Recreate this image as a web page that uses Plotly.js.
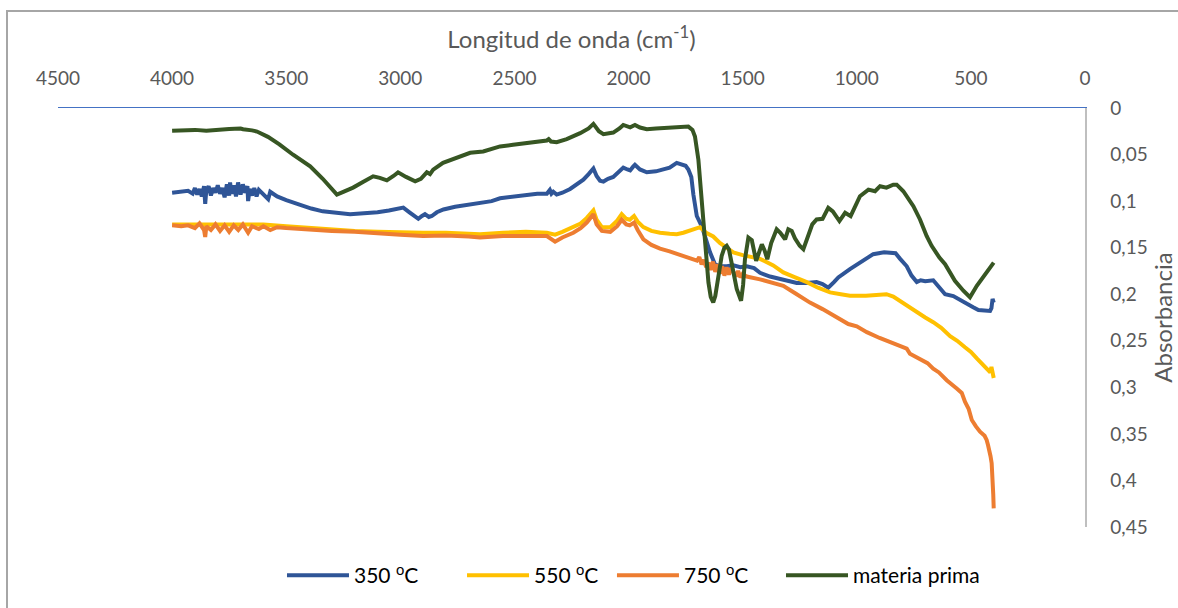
<!DOCTYPE html>
<html>
<head>
<meta charset="utf-8">
<script src="https://cdn.plot.ly/plotly-3.0.1.min.js"></script>
<style>
  html, body { margin: 0; padding: 0; background: #ffffff; }
  #chart { position: absolute; left: 0; top: 0; width: 1178px; height: 608px; }
  #frame { position: absolute; left: 6px; top: 10px; width: 1172px; height: 598px;
           border-left: 2px solid #a6a6a6; border-top: 2px solid #a6a6a6; pointer-events: none; box-sizing: border-box; }
</style>
</head>
<body>
<div id="chart"></div>
<div id="frame"></div>
<script>
// ---- Data (wavenumber in cm-1, absorbance) ----
const seriesNames = ["350 <sup>o</sup>C", "550 <sup>o</sup>C", "750 <sup>o</sup>C", "materia prima"];
const seriesColors = ["#2F5597", "#FFC000", "#ED7D31", "#375623"];

const wn350 = [4000,3960,3930,3910,3900,3890,3880,3870,3860,3855,3850,3840,3830,3820,3810,3800,3790,3780,3770,3760,3750,3746,3740,3730,3720,3711,3700,3690,3680,3670,3667,3660,3650,3640,3630,3620,3600,3579,3570,3540,3500,3440,3390,3340,3280,3220,3160,3100,3050,3016,2987,2960,2935,2921,2905,2892,2875,2862,2840,2811,2760,2709,2650,2600,2563,2505,2450,2400,2358,2345,2338,2330,2315,2290,2256,2230,2198,2175,2154,2140,2125,2110,2090,2067,2045,2023,2005,1993,1980,1972,1950,1920,1880,1848,1820,1789,1770,1750,1738,1725,1716,1701,1679,1665,1643,1621,1600,1570,1541,1510,1482,1450,1424,1380,1336,1300,1263,1220,1176,1150,1125,1100,1081,1030,986,950,928,880,854,830,810,781,760,737,720,700,665,640,613,577,550,518,490,467,440,416,410,405,400];
const abs350 = [0.091,0.090,0.089,0.092,0.086,0.093,0.087,0.095,0.084,0.103,0.088,0.084,0.094,0.086,0.091,0.083,0.092,0.086,0.096,0.082,0.094,0.080,0.092,0.083,0.095,0.080,0.093,0.082,0.091,0.084,0.100,0.087,0.094,0.086,0.095,0.088,0.093,0.098,0.090,0.095,0.099,0.104,0.108,0.111,0.113,0.114,0.113,0.112,0.110,0.108,0.107,0.112,0.117,0.119,0.116,0.114,0.117,0.116,0.112,0.109,0.106,0.104,0.102,0.100,0.097,0.095,0.093,0.092,0.092,0.088,0.092,0.090,0.093,0.091,0.087,0.083,0.077,0.071,0.065,0.073,0.078,0.079,0.076,0.074,0.069,0.064,0.066,0.067,0.063,0.061,0.066,0.069,0.068,0.066,0.064,0.059,0.061,0.062,0.066,0.074,0.093,0.116,0.127,0.139,0.155,0.168,0.170,0.170,0.169,0.171,0.170,0.172,0.177,0.181,0.184,0.186,0.188,0.188,0.187,0.189,0.193,0.187,0.182,0.173,0.166,0.160,0.157,0.155,0.155,0.156,0.162,0.170,0.180,0.187,0.185,0.186,0.185,0.192,0.200,0.202,0.206,0.210,0.214,0.217,0.218,0.218,0.215,0.205,0.209];

const wn550 = [4000,3950,3900,3850,3800,3700,3600,3500,3400,3300,3200,3100,3000,2900,2800,2700,2651,2550,2450,2358,2322,2290,2242,2210,2183,2154,2140,2117,2080,2050,2030,2010,1995,1976,1960,1935,1900,1862,1820,1789,1760,1731,1700,1687,1660,1629,1600,1570,1541,1500,1482,1424,1366,1322,1270,1219,1170,1117,1070,1030,960,913,870,840,800,767,737,700,665,630,591,560,526,500,474,450,431,415,410,405,400];
const abs550 = [0.125,0.125,0.1245,0.124,0.124,0.124,0.125,0.127,0.129,0.131,0.132,0.133,0.134,0.134,0.134,0.135,0.1355,0.134,0.133,0.134,0.136,0.133,0.128,0.124,0.118,0.110,0.120,0.128,0.128,0.121,0.114,0.119,0.120,0.116,0.122,0.128,0.132,0.134,0.135,0.1355,0.134,0.132,0.129,0.128,0.134,0.138,0.145,0.150,0.155,0.158,0.159,0.162,0.169,0.1766,0.182,0.187,0.193,0.198,0.200,0.2016,0.2016,0.201,0.200,0.2025,0.209,0.215,0.220,0.225,0.230,0.236,0.245,0.250,0.257,0.262,0.269,0.275,0.280,0.284,0.278,0.288,0.290];

const wn750 = [4000,3960,3930,3900,3880,3860,3855,3850,3830,3810,3790,3770,3750,3730,3710,3690,3667,3650,3620,3600,3570,3540,3500,3400,3300,3200,3100,3000,2900,2800,2700,2651,2550,2450,2358,2322,2290,2242,2210,2183,2154,2140,2117,2080,2050,2030,2010,1995,1976,1960,1935,1900,1862,1820,1774,1730,1700,1690,1680,1670,1660,1650,1640,1630,1620,1610,1600,1590,1580,1570,1560,1550,1541,1530,1520,1510,1500,1482,1424,1366,1322,1270,1205,1150,1103,1070,1037,1000,956,900,854,840,781,767,723,690,665,640,606,580,562,540,526,510,496,478,460,440,431,425,419,414,409,405,402,400];
const abs750 = [0.126,0.127,0.126,0.129,0.124,0.131,0.1385,0.127,0.131,0.125,0.132,0.126,0.133,0.126,0.131,0.125,0.134,0.127,0.130,0.127,0.131,0.128,0.129,0.131,0.132,0.133,0.134,0.136,0.1375,0.137,0.138,0.139,0.1375,0.137,0.1375,0.1435,0.139,0.134,0.129,0.123,0.114,0.125,0.132,0.133,0.127,0.120,0.125,0.126,0.123,0.131,0.141,0.147,0.151,0.154,0.158,0.162,0.164,0.160,0.168,0.163,0.171,0.166,0.174,0.165,0.176,0.168,0.178,0.170,0.180,0.171,0.179,0.172,0.177,0.181,0.175,0.182,0.178,0.181,0.184,0.188,0.191,0.199,0.209,0.216,0.223,0.228,0.232,0.2345,0.2407,0.247,0.2514,0.2532,0.2585,0.264,0.2692,0.274,0.2799,0.284,0.2924,0.297,0.3013,0.306,0.3155,0.323,0.3351,0.342,0.3476,0.352,0.3565,0.362,0.3725,0.374,0.3814,0.395,0.415,0.43];

const wnMP = [4000,3900,3850,3800,3750,3700,3689,3650,3628,3580,3530,3470,3395,3340,3300,3278,3250,3207,3160,3119,3090,3059,3030,3010,2975,2935,2910,2884,2870,2856,2813,2750,2694,2637,2563,2506,2430,2358,2350,2340,2315,2271,2212,2175,2154,2130,2110,2067,2040,2023,1993,1972,1950,1920,1880,1830,1774,1738,1720,1709,1694,1679,1665,1650,1640,1629,1620,1611,1592,1580,1570,1560,1548,1536,1526,1507,1498,1490,1475,1460,1441,1428,1416,1404,1392,1375,1351,1335,1322,1314,1300,1285,1271,1250,1234,1212,1195,1176,1150,1125,1105,1076,1051,1027,1005,986,949,920,898,870,840,825,796,767,752,723,694,672,657,638,613,570,533,504,474,438,409,402,400];
const absMP = [0.0243,0.0235,0.0245,0.023,0.0225,0.022,0.0228,0.024,0.0253,0.031,0.039,0.0502,0.0627,0.076,0.088,0.093,0.090,0.0855,0.079,0.0734,0.075,0.0777,0.073,0.0691,0.074,0.0787,0.076,0.0691,0.071,0.0662,0.0588,0.053,0.0481,0.0467,0.0413,0.0395,0.037,0.0349,0.0335,0.036,0.0367,0.0334,0.027,0.022,0.0171,0.025,0.0281,0.0264,0.022,0.0182,0.0207,0.0182,0.021,0.0228,0.022,0.0215,0.020,0.020,0.0235,0.0306,0.0556,0.1018,0.1446,0.1873,0.203,0.2087,0.202,0.187,0.1589,0.150,0.148,0.152,0.166,0.183,0.1944,0.207,0.190,0.1624,0.1392,0.142,0.1642,0.155,0.1464,0.153,0.1624,0.145,0.1303,0.134,0.1375,0.141,0.1303,0.1321,0.140,0.148,0.1517,0.1357,0.125,0.1197,0.119,0.1072,0.111,0.1214,0.1125,0.1161,0.104,0.0947,0.0876,0.0894,0.084,0.0855,0.0823,0.0823,0.0894,0.100,0.1054,0.1197,0.1375,0.148,0.1535,0.1606,0.1677,0.1856,0.1962,0.2033,0.1909,0.1784,0.1695,0.1665,0.166];

const xTickVals = [4500,4000,3500,3000,2500,2000,1500,1000,500,0];
const yTickVals = [0,0.05,0.1,0.15,0.2,0.25,0.3,0.35,0.4,0.45];
const xTitle = "Longitud de onda (cm<sup>-1</sup>)";
const yTitle = "Absorbancia";

// ---- Traces (each in its own legend box so entries sit where the reference puts them) ----
const legendIds = ["legend", "legend2", "legend3", "legend4"];
const legendX = [0.2181, 0.3934, 0.5394, 0.7040];
const xs = [wn350, wn550, wn750, wnMP];
const ys = [abs350, abs550, abs750, absMP];
const traces = xs.map((x, i) => ({
  x: x, y: ys[i], type: "scatter", mode: "lines", name: seriesNames[i],
  legend: legendIds[i],
  line: { color: seriesColors[i], width: 4, shape: "linear" }
}));

const FONT = "Lato, 'Open Sans', 'Liberation Sans', sans-serif";
const layout = {
  width: 1178, height: 608,
  margin: { l: 58, r: 93, t: 108, b: 79 },
  paper_bgcolor: "rgba(0,0,0,0)",
  plot_bgcolor: "#ffffff",
  separators: ",.",
  font: { family: FONT, size: 19, color: "#595959" },
  showlegend: true,
  xaxis: {
    side: "top", range: [4500, 0], tickvals: xTickVals,
    showgrid: false, zeroline: false, showline: true, linecolor: "#4472C4", linewidth: 1.5,
    ticks: "outside", ticklen: 14, tickcolor: "rgba(0,0,0,0)",
    tickfont: { family: FONT, size: 19, color: "#595959" },
    title: { text: xTitle, font: { family: FONT, size: 24, color: "#595959" }, standoff: 10 }
  },
  yaxis: {
    side: "right", range: [0.45, 0], tickvals: yTickVals,
    showgrid: false, zeroline: false, showline: true, linecolor: "#bfbfbf", linewidth: 1.5,
    ticks: "outside", ticklen: 20, tickcolor: "rgba(0,0,0,0)",
    tickfont: { family: FONT, size: 19, color: "#595959" },
    title: { text: yTitle, font: { family: FONT, size: 24, color: "#595959" }, standoff: 8 }
  }
};
legendIds.forEach((id, i) => {
  layout[id] = {
    orientation: "h", x: legendX[i], xanchor: "left", y: -0.116, yanchor: "middle",
    font: { family: FONT, size: 21, color: "#000000" },
    itemwidth: 62, bgcolor: "rgba(0,0,0,0)"
  };
});

Plotly.newPlot("chart", traces, layout, { staticPlot: true, displayModeBar: false });
</script>
</body>
</html>
